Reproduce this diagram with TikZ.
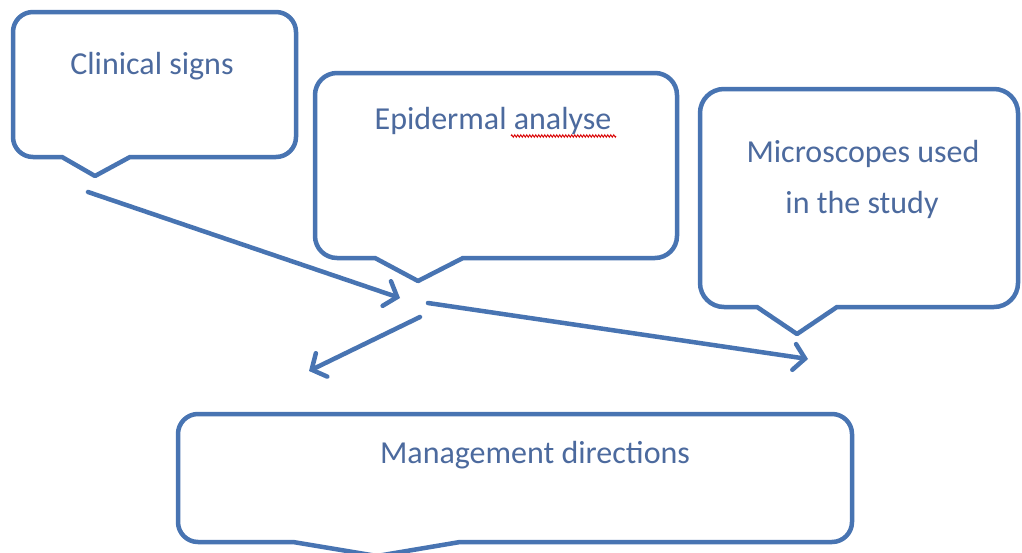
\documentclass[tikz,border=0pt]{standalone}
\usepackage{fontspec}
\setmainfont{Carlito}
\usetikzlibrary{arrows.meta,decorations.pathmorphing}
\definecolor{lineblue}{RGB}{72,116,178}
\definecolor{textblue}{RGB}{76,106,158}
\begin{document}
\begin{tikzpicture}[x=1pt,y=-1pt,
  callout/.style={draw=lineblue,line width=4.5pt,line join=round},
  lbl/.style={text=textblue,font=\fontsize{32}{40}\selectfont,anchor=base,inner sep=0pt},
  conn/.style={draw=lineblue,line width=4.5pt,line cap=round,-{Straight Barb[length=11pt,width=26pt,line cap=round]}},
  squig/.style={draw=red!85!black,line width=0.9pt,decorate,decoration={zigzag,amplitude=1.2pt,segment length=3pt}}]
\useasboundingbox (0,0) rectangle (1022,552);
\fill[white] (0,0) rectangle (1022,552);
% callout shapes
\draw[callout] (62,157) -- (95,176) -- (130,157) [rounded corners=20] -- (296,157) -- (296,12) -- (13,12) -- (13,157) [sharp corners] -- cycle;
\draw[callout] (375,258) -- (418,281) -- (463,258) [rounded corners=22] -- (677,258) -- (677,73) -- (315,73) -- (315,258) [sharp corners] -- cycle;
\draw[callout] (757,307) -- (797,334) -- (837,307) [rounded corners=24] -- (1018,307) -- (1018,89) -- (700,89) -- (700,307) [sharp corners] -- cycle;
\draw[callout] (293,542) -- (377,556) -- (460,542) [rounded corners=20] -- (852,542) -- (852,414) -- (178,414) -- (178,542) [sharp corners] -- cycle;
% labels
\node[lbl] (clin) at (152,74) {Clinical signs};
\node[lbl] (epi) at (493,129) {Epidermal analyse};
\node[lbl] (micro1) at (863,162) {Microscopes used};
\node[lbl] (micro2) at (862,213) {in the study};
\node[lbl] (mgmt) at (535,463) {Management directions};
\draw[squig] (511,136) -- (616,136);
% connectors
\coordinate (a1s) at (88,192);
\coordinate (a1e) at (400,298);
\coordinate (a2s) at (428,303);
\coordinate (a2e) at (808,359);
\coordinate (a3s) at (420,317);
\coordinate (a3e) at (309,371);
\draw[conn] (a1s) -- (a1e);
\draw[conn] (a2s) -- (a2e);
\draw[conn] (a3s) -- (a3e);
\end{tikzpicture}
\end{document}
